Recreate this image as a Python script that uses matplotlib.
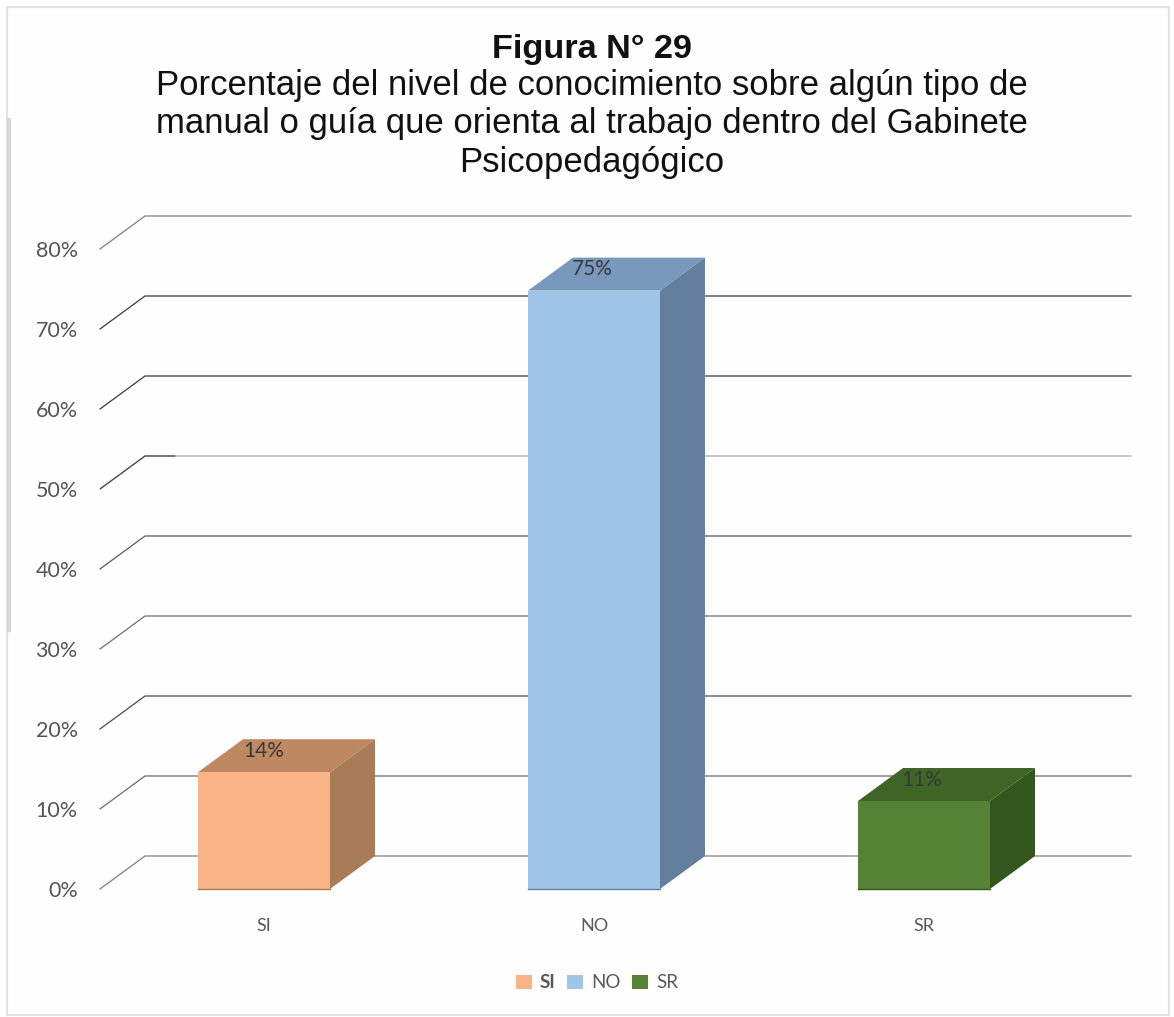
import matplotlib
matplotlib.use("Agg")
import matplotlib.pyplot as plt
from matplotlib.patches import Polygon, Rectangle, Patch

categories = ["SI", "NO", "SR"]
bar_values = [14.6, 74.8, 11.0]
bar_labels = ["14%", "75%", "11%"]
y_ticks = [0, 10, 20, 30, 40, 50, 60, 70, 80]
y_labels = ["0%", "10%", "20%", "30%", "40%", "50%", "60%", "70%", "80%"]
front_colors = ["#F9B384", "#9FC5E9", "#558235"]
top_colors = ["#BE8962", "#7898BC", "#3F6526"]
side_colors = ["#A97C58", "#647F9E", "#33561D"]

W, H = 1174, 1017
fig = plt.figure(figsize=(W / 100, H / 100), dpi=100, facecolor="#FEFEFE")

# axes placed so that 0% front is at px 889 and 10% = 80 px, one category = 330 px
left, right, top, bottom = 100, 1131, 216, 889
ax = fig.add_axes([left / W, 1 - bottom / H, (right - left) / W, (bottom - top) / H])
ax.set_xlim((left - 264) / 330, (right - 264) / 330)
ax.set_ylim(0, (bottom - top) / 80 * 10)
ax.patch.set_alpha(0)
for s in ax.spines.values():
    s.set_visible(False)

depth_x = 45 / 330
depth_y = 33 / 8
bar_w = 0.4
grid_col = ["#808080", "#6b6b6b", "#4a4a4a", "#707070", "#5a5a5a", "#a8a8a8", "#3a3a3a", "#3a3a3a", "#808080"]

for v, c in zip(y_ticks, grid_col):
    x0 = ax.get_xlim()[0]
    x1 = ax.get_xlim()[1]
    ax.plot([x0, x0 + depth_x, x1], [v, v + depth_y, v + depth_y], color=c, lw=0.9, zorder=1, clip_on=False)
# darker stub on the 50% line
ax.plot([x0, x0 + depth_x, x0 + depth_x + 0.09], [50, 50 + depth_y, 50 + depth_y], color="#4a4a4a", lw=0.9, zorder=1)

for i, v in enumerate(bar_values):
    x0 = i - bar_w / 2
    x1 = i + bar_w / 2
    ax.add_patch(Polygon([(x0, v), (x1, v), (x1 + depth_x, v + depth_y), (x0 + depth_x, v + depth_y)],
                         facecolor=top_colors[i], edgecolor="none", zorder=2))
    ax.add_patch(Polygon([(x1, 0), (x1 + depth_x, depth_y), (x1 + depth_x, v + depth_y), (x1, v)],
                         facecolor=side_colors[i], edgecolor="none", zorder=2))
    ax.bar(i, v, width=bar_w, color=front_colors[i], zorder=3)
    ax.plot([x0, x1], [0, 0], color=side_colors[i], lw=1.0, zorder=4, clip_on=False)
    ax.text(i - 0.004 * i, v + 2.65, bar_labels[i], ha="center", va="center", fontsize=15,
            family="Lato", color="#383838", zorder=5)

ax.set_yticks(y_ticks)
ax.set_yticklabels(y_labels, family="Lato", fontsize=15.5, color="#555555")
ax.set_xticks(range(len(categories)))
ax.set_xticklabels(categories, family="Lato", fontsize=13, color="#595959")
ax.tick_params(axis="y", length=0, pad=16)
ax.tick_params(axis="x", length=0, pad=21)

handles = [Patch(facecolor=c, label=n) for c, n in zip(front_colors, categories)]
leg = fig.legend(handles=handles, loc="center", bbox_to_anchor=(597 / W, 1 - 983 / H), ncol=3,
                 frameon=False, prop={"family": "Lato", "size": 13.5}, labelcolor="#595959",
                 handlelength=0.85, handleheight=0.85, handletextpad=0.4, columnspacing=0.65)
leg.get_texts()[0].set_fontweight("bold")

fig.text(592 / W, 1 - 58 / H, "Figura N° 29", ha="center", va="baseline", family="Liberation Sans",
         fontsize=24.7, fontweight="bold", color="#111111")
title_lines = ["Porcentaje del nivel de conocimiento sobre algún tipo de",
               "manual o guía que orienta al trabajo dentro del Gabinete",
               "Psicopedagógico"]
for line, y in zip(title_lines, [95, 133, 172]):
    fig.text(592 / W, 1 - y / H, line, ha="center", va="baseline", family="Liberation Sans",
             fontsize=25, color="#111111")

# scanned frame around the chart
fig.add_artist(Rectangle((7 / W, 1 - 1015 / H), 1162 / W, 1008 / H, transform=fig.transFigure,
                         fill=False, edgecolor="#E2E2E2", lw=1.5))
fig.add_artist(plt.Line2D([9 / W, 9 / W], [1 - 120 / H, 1 - 630 / H], color="#D8D8D8", lw=3))

fig.savefig("out.png", dpi=100, facecolor=fig.get_facecolor())
